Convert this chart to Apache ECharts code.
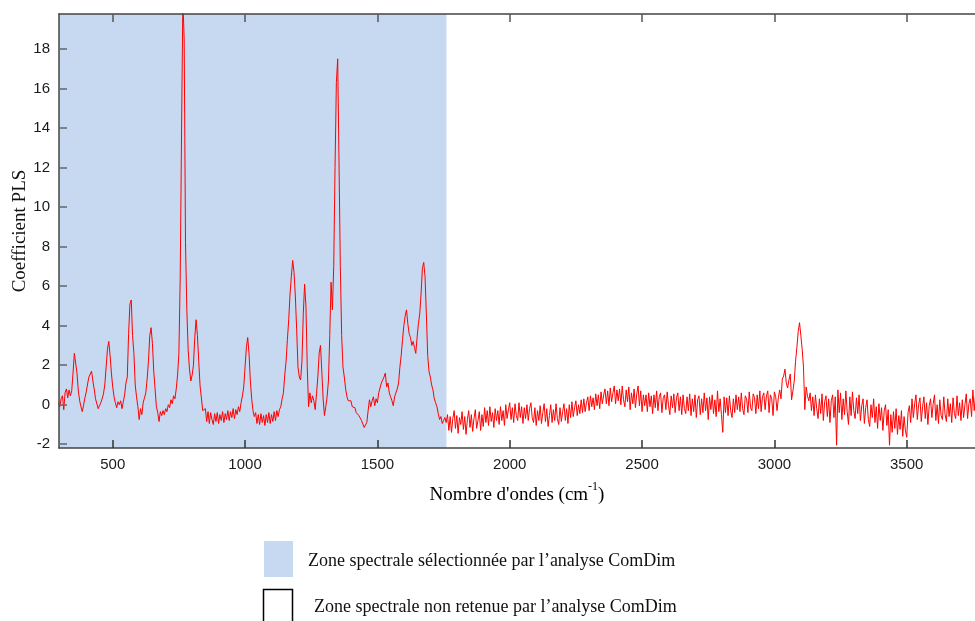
<!DOCTYPE html>
<html><head><meta charset="utf-8">
<script src="https://cdn.jsdelivr.net/npm/echarts@6/dist/echarts.min.js"></script>
<style>html,body{margin:0;padding:0;background:#fff}#c{width:975px;height:621px}</style>
</head><body><div id="c"></div>
<script>
// Spectrum sampling grid (cm-1)
const wavenumberStart = 295;
const wavenumberStep = 5;
// PLS coefficients, one value per 5 cm-1 (each line = 50 cm-1)
const plsCoefficients = [
  0.1, -0.1, 0.3, 0.45, -0.25, 0.6, 0.8, 0.35, 0.75, 0.45,
  0.7, 1.6, 2.6, 2.7, 1.6, 0.7, 0.2, -0.1, -0.35, 0.0,
  0.35, 0.65, 1.05, 1.4, 1.35, 1.7, 1.2, 0.8, 0.3, 0.4,
  -0.2, -0.25, 0.1, 0.3, 0.55, 1.0, 1.9, 2.8, 3.2, 2.5,
  1.6, 0.9, 0.4, 0.1, -0.15, 0.15, 0.0, 0.2, -0.2, 0.15,
  0.5, 1.1, 1.4, 3.6, 5.1, 5.3, 3.5, 2.6, 1.0, 0.4,
  -0.1, -0.75, -0.2, -0.5, 0.1, 0.35, 0.6, 1.3, 2.2, 3.5,
  3.9, 3.1, 1.7, 0.8, -0.1, -0.4, -0.85, -0.35, -0.55, -0.3,
  -0.5, -0.2, -0.35, 0.0, -0.15, 0.25, 0.05, 0.45, 0.3, 0.8,
  1.5, 2.6, 6.4, 13.75, 20.5, 18.5, 8.2, 4.8, 2.8, 1.8,
  1.2, 1.5, 2.0, 3.4, 4.3, 3.5, 2.2, 0.95, 0.35, -0.3,
  -0.4, -0.2, -0.85, -0.35, -0.95, -0.4, -0.75, -1.0, -0.45, -0.85,
  -0.4, -0.95, -0.5, -0.8, -0.35, -0.9, -0.45, -0.75, -0.3, -0.8,
  -0.35, -0.65, -0.2, -0.7, -0.25, -0.5, -0.1, -0.35, 0.1, 0.45,
  0.9, 1.9, 2.9, 3.4, 2.6, 1.2, 0.3, -0.3, -0.6, -0.4,
  -0.95, -0.5, -1.0, -0.45, -0.9, -0.55, -1.05, -0.5, -0.9, -0.4,
  -0.95, -0.5, -0.85, -0.35, -0.8, -0.3, -0.6, -0.25, -0.1, 0.3,
  0.6, 1.5, 2.2, 3.3, 4.3, 5.6, 6.5, 7.3, 6.7, 5.5,
  3.8, 1.9, 1.4, 1.25, 2.2, 4.6, 6.1, 5.0, 1.9, -0.1,
  0.6, 0.1, 0.45, 0.2, -0.25, 0.55, 1.4, 2.6, 3.0, 1.7,
  0.3, -0.55, -0.1, 0.4, 1.2, 3.5, 6.2, 4.8, 7.0, 12.0,
  16.3, 17.5, 17.5, 7.0, 3.5, 1.9, 1.4, 0.8, 0.4, 0.2,
  0.1, 0.2, -0.1, -0.2, -0.15, -0.4, -0.35, -0.55, -0.6, -0.8,
  -0.9, -1.15, -1.1, -0.9, -0.3, 0.25, -0.1, 0.2, 0.4, -0.05,
  0.3, 0.1, 0.6, 0.7, 1.1, 1.0, 1.4, 1.6, 0.9, 1.1,
  0.6, 0.4, 0.2, -0.05, 0.4, 0.6, 0.8, 1.1, 1.9, 2.5,
  3.3, 4.0, 4.5, 4.8, 4.1, 3.6, 3.4, 3.0, 3.2, 2.9,
  2.6, 3.4, 4.1, 4.6, 5.6, 6.9, 7.2, 6.5, 4.6, 2.5,
  1.7, 1.4, 1.0, 0.75, 0.3, 0.1, -0.1, -0.45, -0.75, -0.6,
  -0.95, -0.8, -0.65, -0.9,
  -0.5, -1.3, -0.6, -1.4, -0.7, -0.3, -1.2, -0.55, -1.45, -0.65,
  -1.0, -0.35, -1.25, -0.6, -1.5, -0.75, -0.3, -1.15, -0.5, -1.35,
  -0.7, -0.25, -1.2, -0.8, -0.35, -1.3, -0.5, -1.1, -0.15, -0.9,
  -0.3, -1.05, -0.1, -0.85, -0.4, -1.15, -0.2, -0.8, -0.3, -1.0,
  -0.1, -0.8, -0.3, -1.05, 0.0, -0.7, -0.25, 0.1, -0.75, -0.15,
  -0.9, 0.05, -0.55, -0.8, 0.1, -0.65, -0.1, -0.95, -0.15, -0.7,
  0.0, -0.8, -0.2, 0.1, -0.65, -0.9, -0.15, -1.05, -0.3, -0.8,
  -0.05, -0.95, -0.4, 0.05, -0.85, -0.2, -1.1, -0.55, 0.0, -0.9,
  -0.25, -0.8, 0.05, -0.7, -1.0, -0.15, -0.85, -0.35, 0.05, -0.8,
  -0.2, -0.95, 0.0, -0.65, 0.15, -0.6, -0.15, 0.2, -0.55, 0.0,
  -0.45, 0.25, -0.4, 0.3, -0.35, 0.1, 0.4, -0.3, 0.45, -0.1,
  0.35, -0.25, 0.55, -0.05, 0.5, -0.2, 0.65, 0.05, 0.5, 0.8,
  0.05, 0.7, -0.05, 0.85, 0.15, 0.6, 0.95, 0.05, 0.75, 0.2,
  0.8, 0.0, 0.95, 0.25, -0.1, 0.75, 0.15, 0.9, -0.25, 0.6,
  0.05, 0.8, -0.15, 0.55, 0.95, -0.05, 0.7, -0.35, 0.5, -0.05,
  0.5, -0.35, 0.6, -0.1, 0.45, -0.45, 0.5, -0.15, 0.7, -0.3,
  0.4, 0.6, -0.4, 0.35, 0.5, -0.25, 0.65, -0.05, -0.5, 0.45,
  -0.15, 0.55, -0.4, 0.35, 0.6, -0.3, 0.4, -0.5, 0.5, -0.2,
  -0.45, 0.4, -0.3, 0.55, -0.55, 0.3, -0.35, 0.5, -0.65, 0.25,
  0.45, -0.5, 0.3, -0.4, 0.6, -0.3, 0.35, -0.75, 0.4, -0.25,
  0.5, -0.45, 0.25, -0.6, 0.7, -0.35, 0.3, -0.5, -1.4, 0.4,
  -0.4, 0.35, -0.55, 0.45, -0.3, -0.65, 0.3, -0.4, 0.5, -0.25,
  0.4, -0.35, 0.6, -0.2, -0.5, 0.45, 0.3, -0.4, 0.65, -0.15,
  -0.3, 0.55, 0.35, -0.45, 0.5, -0.2, 0.7, -0.35, 0.4, 0.6,
  -0.25, 0.45, 0.7, -0.4, 0.5, 0.3, -0.55, 0.65, 0.4, -0.3,
  0.35, 0.75, 0.3, 1.3, 1.45, 1.8, 1.1, 0.85, 1.25, 1.55,
  0.25, 0.7, 1.2, 2.2, 2.9, 3.7, 4.15, 3.5, 2.8, 1.9,
  -0.25, 0.9, 0.45, 0.2, 0.6, -0.3, 0.4, -0.55, 0.5, -0.2,
  -0.7, 0.3, -0.45, 0.55, -0.8, 0.15, 0.45, -0.6, 0.3, -0.9,
  0.2, 0.5, -0.65, 0.4, -2.05, 0.75, -0.4, 0.6, -0.75, 0.3,
  -0.5, 0.7, -0.35, -1.0, 0.4, -0.55, 0.65, -0.3, -0.7, 0.35,
  -0.45, 0.5, -0.8, -0.05, 0.3, -0.95, -0.15, 0.25, -0.75, -1.1,
  0.0, -0.65, 0.3, -0.9, -0.1, -1.2, 0.05, -0.8, -0.15, -1.3,
  -0.3, 0.0, -1.05, -0.25, -2.05, -0.5, -1.4, -0.35, -1.2, -0.2,
  -1.5, -0.55, -1.25, -0.3, -1.6, -0.6, -1.3, -1.65, -0.4, -0.05,
  -0.9, 0.3, -0.65, 0.05, 0.5, -0.75, 0.0, 0.35, -0.85, -0.1,
  0.4, -0.7, 0.1, -1.0, -0.05, 0.3, -0.65, 0.05, 0.5, -0.8,
  0.0, -0.95, 0.25, -0.55, -0.75, 0.4, -0.5, -0.85, 0.3, -0.6,
  0.05, -0.9, 0.35, -0.45, -0.7, 0.45, -0.55, 0.1, -0.8, 0.25,
  -0.65, 0.0, 0.55, -0.7, 0.05, 0.3, -0.6, 0.75, -0.3, 0.5
];
const xTicks = [500, 1000, 1500, 2000, 2500, 3000, 3500];
const yTicks = [-2, 0, 2, 4, 6, 8, 10, 12, 14, 16, 18];
const xRange = [297, 3758];
const yRange = [-2.19, 19.77];
const selectedZone = [297, 1761];
const yTitle = 'Coefficient PLS';
const xTitleMain = "Nombre d'ondes (cm";
const xTitleSup = '-1';
const legendLabels = [
  'Zone spectrale sélectionnée par l’analyse ComDim',
  'Zone spectrale non retenue par l’analyse ComDim'
];

const points = plsCoefficients.map((v, i) => [wavenumberStart + i * wavenumberStep, v]);

const axisColor = '#444';
const tickFont = { fontFamily: 'Liberation Sans, Arial, sans-serif', fontSize: 15, color: '#1a1a1a' };
const serif = 'Liberation Serif, Times New Roman, serif';
const plain = v => String(v);

const chart = echarts.init(document.getElementById('c'), null, { renderer: 'canvas' });
chart.setOption({
  animation: false,
  backgroundColor: '#fff',
  grid: { left: 59, top: 14, right: 0, bottom: 173 },
  xAxis: [{
    type: 'value', position: 'bottom', min: xRange[0], max: xRange[1], z: 10,
    axisLine: { show: true, onZero: false, lineStyle: { color: axisColor, width: 1.5 } },
    axisTick: { show: true, inside: true, length: 8, customValues: xTicks, lineStyle: { color: '#333', width: 1.5 } },
    axisLabel: Object.assign({ customValues: xTicks, margin: 9, formatter: plain }, tickFont),
    splitLine: { show: false }
  }, {
    type: 'value', position: 'top', min: xRange[0], max: xRange[1], z: 10,
    axisLine: { show: true, onZero: false, lineStyle: { color: axisColor, width: 1.5 } },
    axisTick: { show: true, inside: true, length: 8, customValues: xTicks, lineStyle: { color: '#555', width: 1.5 } },
    axisLabel: { show: false },
    splitLine: { show: false }
  }],
  yAxis: {
    type: 'value', min: yRange[0], max: yRange[1], z: 10,
    axisLine: { show: true, onZero: false, lineStyle: { color: axisColor, width: 1.5 } },
    axisTick: { show: true, inside: true, length: 8, customValues: yTicks, lineStyle: { color: '#666', width: 1.5 } },
    axisLabel: Object.assign({ customValues: yTicks, margin: 9, formatter: plain }, tickFont),
    splitLine: { show: false }
  },
  series: [{
    type: 'line', data: [], z: 1, silent: true,
    markArea: {
      silent: true,
      itemStyle: { color: '#c6d9f0' },
      data: [[{ xAxis: selectedZone[0] }, { xAxis: selectedZone[1] }]]
    }
  }, {
    type: 'line', data: points, z: 3, showSymbol: false, symbol: 'none', clip: true,
    lineStyle: { color: '#ff0000', width: 1 }
  }],
  graphic: [
    { type: 'text', x: 20, y: 231, rotation: Math.PI / 2,
      style: { text: yTitle, font: '19px ' + serif, fill: '#111', align: 'center', verticalAlign: 'middle' } },
    { type: 'text', x: 517, y: 493,
      style: { text: '{a|' + xTitleMain + '}{s|' + xTitleSup + '}{a|)}', align: 'center', verticalAlign: 'middle',
        rich: { a: { fontFamily: serif, fontSize: 19, color: '#111', lineHeight: 24, verticalAlign: 'bottom' },
                s: { fontFamily: serif, fontSize: 12, color: '#111', lineHeight: 24, verticalAlign: 'top' } } } },
    { type: 'rect', shape: { x: 264, y: 541, width: 29, height: 36 }, style: { fill: '#c6d9f0' } },
    { type: 'rect', shape: { x: 263.5, y: 589.5, width: 29, height: 36 }, style: { fill: 'none', stroke: '#000', lineWidth: 1.5 } },
    { type: 'text', x: 308, y: 561, style: { text: legendLabels[0], font: '18px ' + serif, fill: '#111', verticalAlign: 'middle' } },
    { type: 'text', x: 314, y: 607, style: { text: legendLabels[1], font: '18px ' + serif, fill: '#111', verticalAlign: 'middle' } }
  ]
});
</script>
</body></html>
